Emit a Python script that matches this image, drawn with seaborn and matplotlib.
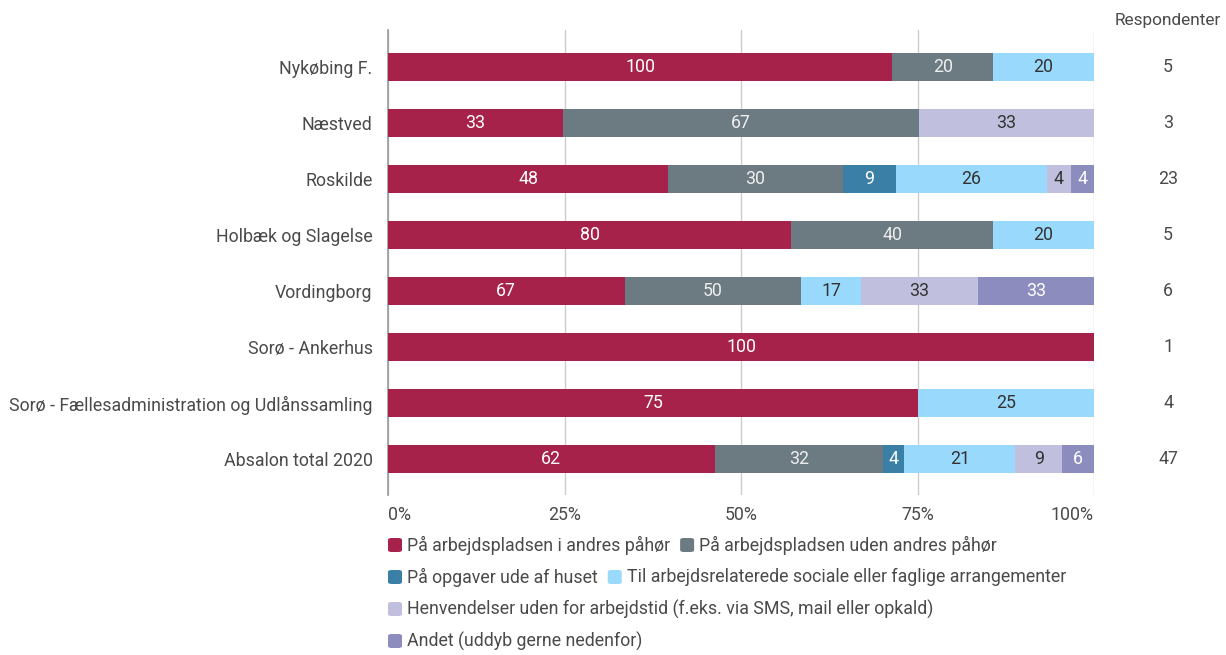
import numpy as np
import pandas as pd
import matplotlib.pyplot as plt
import seaborn as sns
from matplotlib.patches import FancyBboxPatch

# Data (labels are % of respondents, bars are normalised)
locations = ['Nykøbing F.', 'Næstved', 'Roskilde', 'Holbæk og Slagelse', 'Vordingborg',
             'Sorø - Ankerhus', 'Sorø - Fællesadministration og Udlånssamling', 'Absalon total 2020']
series_names = ['På arbejdspladsen i andres påhør',
                'På arbejdspladsen uden andres påhør',
                'På opgaver ude af huset',
                'Til arbejdsrelaterede sociale eller faglige arrangementer',
                'Henvendelser uden for arbejdstid (f.eks. via SMS, mail eller opkald)',
                'Andet (uddyb gerne nedenfor)']
i_andres_paahoer = [100, 33, 48, 80, 67, 100, 75, 62]
uden_andres_paahoer = [20, 67, 30, 40, 50, 0, 0, 32]
ude_af_huset = [0, 0, 9, 0, 0, 0, 0, 4]
arrangementer = [20, 0, 26, 20, 17, 0, 25, 21]
uden_for_arbejdstid = [0, 33, 4, 0, 33, 0, 0, 9]
andet = [0, 0, 4, 0, 33, 0, 0, 6]
respondenter = [5, 3, 23, 5, 6, 1, 4, 47]
xtick_labels = ['0%', '25%', '50%', '75%', '100%']

colors = ['#A6224A', '#6C7A82', '#3A80A6', '#99DAFC', '#C0C0DE', '#8C8CBF']
text_colors = ['white', '#EEEEEE', 'white', '#333333', '#333333', 'white']
txt = '#4A4A4A'
FS = 12.8

values = np.array([i_andres_paahoer, uden_andres_paahoer, ude_af_huset,
                   arrangementer, uden_for_arbejdstid, andet], dtype=float).T
shares = values / values.sum(axis=1, keepdims=True) * 100
cum = shares.cumsum(axis=1)

sns.set_theme(style='white')
plt.rcParams['font.family'] = ['Roboto', 'DejaVu Sans']

fig = plt.figure(figsize=(12.26, 6.55), dpi=100)
W, H = 1226, 655
ax = fig.add_axes([388 / W, (H - 495) / H, 706 / W, 465 / H])

# Stacked bars: draw cumulative totals from the widest down
for j in reversed(range(len(series_names))):
    df = pd.DataFrame({'loc': locations, 'cum': cum[:, j]})
    sns.barplot(data=df, y='loc', x='cum', color=colors[j], orient='h', width=0.5,
                saturation=1, linewidth=0, ax=ax, zorder=3)

# Segment labels
for i in range(len(locations)):
    for j in range(len(series_names)):
        v = values[i, j]
        if v > 0:
            ax.text(cum[i, j] - shares[i, j] / 2, i, f'{int(v)}', ha='center', va='center',
                    fontsize=FS, color=text_colors[j], zorder=4)
    ax.text(110.5, i, str(respondenter[i]), ha='center', va='center', fontsize=FS,
            color=txt, clip_on=False)

fig.text(1168 / W, (H - 20) / H, 'Respondenter', ha='center', va='center', fontsize=12.4,
         color=txt)

ax.set_xlim(0, 100)
ax.set_ylim(7.643, -0.66)
ax.set_xticks([0, 25, 50, 75, 100])
ax.set_xticklabels(xtick_labels, fontsize=FS, color=txt)
xl = ax.get_xticklabels()
xl[0].set_ha('left')
xl[-1].set_ha('right')
ax.tick_params(axis='x', length=0, pad=8)
ax.tick_params(axis='y', length=0, pad=11, labelsize=FS, labelcolor=txt)
ax.set_xlabel('')
ax.set_ylabel('')
ax.xaxis.grid(True, color='#CCCCCC', linewidth=1, zorder=0)
ax.set_axisbelow(True)
for s in ['top', 'right', 'bottom']:
    ax.spines[s].set_visible(False)
ax.spines['left'].set_color('#999999')
ax.spines['left'].set_linewidth(1.2)

# Custom legend laid out as in the reference (flowing rows)
rows = [[0, 1], [2, 3], [4], [5]]
row_y = [545, 577, 609, 641]
fig.canvas.draw()
renderer = fig.canvas.get_renderer()
for row, y in zip(rows, row_y):
    x = 388
    for j in row:
        fig.patches.append(FancyBboxPatch(((x) / W, (H - y - 7) / H), 14 / W, 14 / H,
                                          boxstyle='round,pad=0,rounding_size=0.003',
                                          transform=fig.transFigure, facecolor=colors[j],
                                          edgecolor='none', figure=fig))
        t = fig.text((x + 19) / W, (H - y) / H, series_names[j], ha='left', va='center',
                     fontsize=FS, color=txt)
        bb = t.get_window_extent(renderer)
        x = bb.x1 + 10

fig.savefig('out.png', dpi=100)
